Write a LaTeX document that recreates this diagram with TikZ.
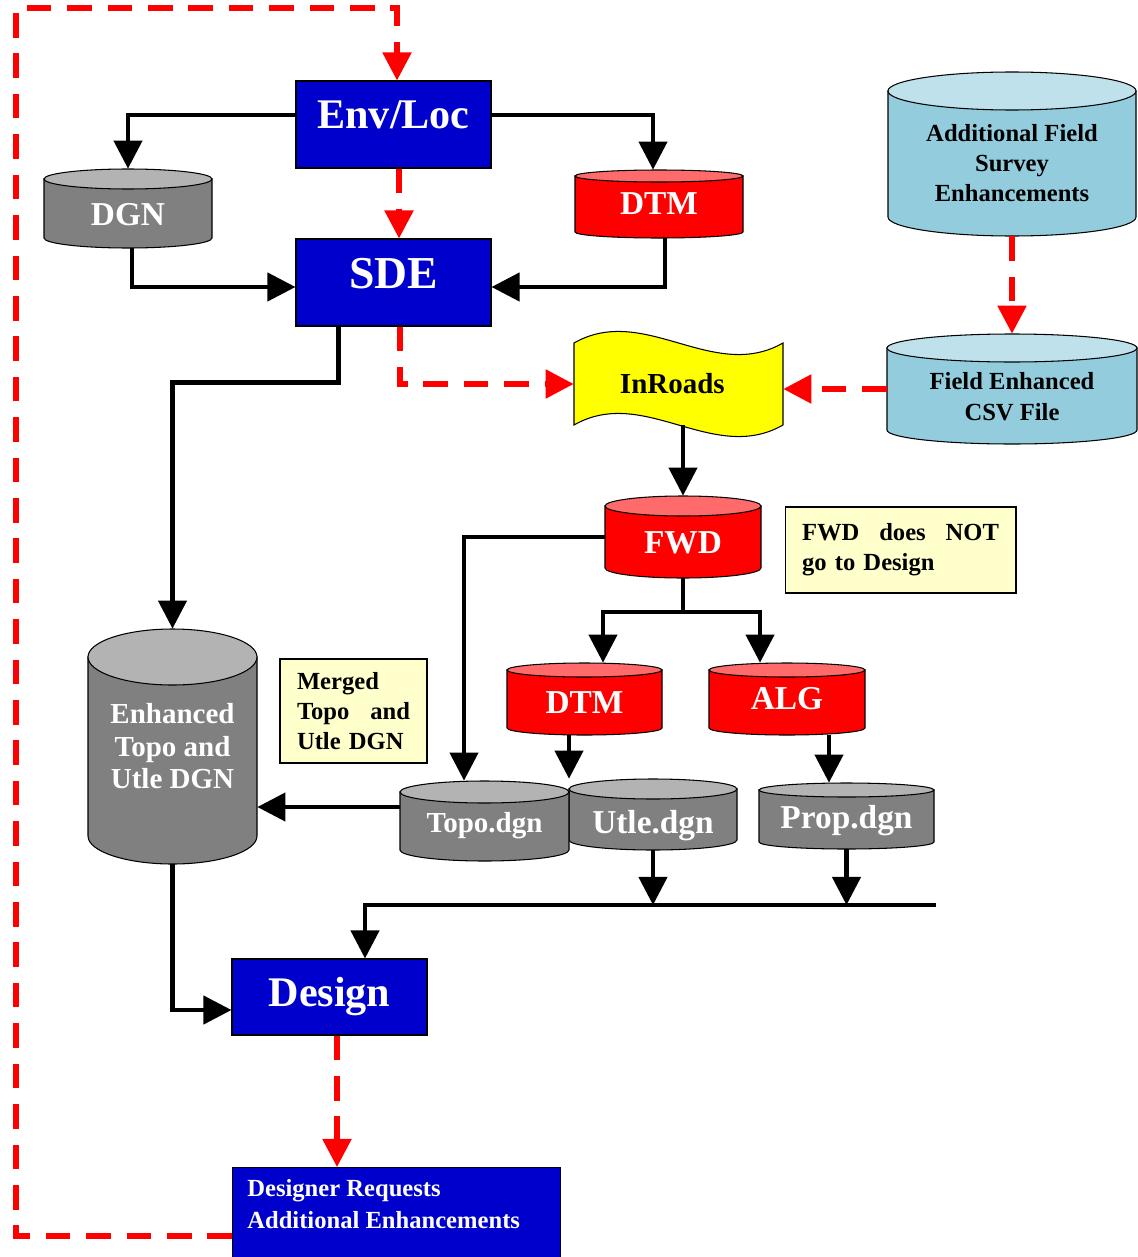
\documentclass[tikz,border=0pt]{standalone}
\usepackage{fontspec}
\setmainfont{Liberation Serif}
\usetikzlibrary{arrows.meta}

\definecolor{boxblue}{HTML}{0000CC}
\definecolor{notefill}{HTML}{FFFFCC}
\definecolor{tapefill}{HTML}{FFFF00}
\definecolor{gbody}{HTML}{808080}
\definecolor{gtop}{HTML}{B3B3B3}
\definecolor{rbody}{HTML}{FF0000}
\definecolor{rtop}{HTML}{FF6B6B}
\definecolor{cbody}{HTML}{93CDDD}
\definecolor{ctop}{HTML}{BEE1EB}

% name, centre x, top y, bottom y, width, ellipse depth, colour set, label style, text
\newcommand{\drum}[9]{%
  \draw[drumedge, fill=#7body] ({#2-#5/2},{#3+#6}) -- ({#2-#5/2},{#4-#6})
    arc[start angle=180, end angle=0, x radius={#5/2}, y radius=#6]
    -- ({#2+#5/2},{#3+#6}) -- cycle;
  \draw[drumedge, fill=#7top] (#2,{#3+#6}) ellipse[x radius={#5/2}, y radius=#6];
  \node[inner sep=0pt, minimum width={#5*0.02cm}, minimum height={(#4-#3)*0.02cm},
    label={[#8]center:{#9}}] (#1) at (#2,{(#3+#4)/2}) {};
}

\begin{document}
\begin{tikzpicture}[x=0.02cm, y=-0.02cm,
  flow/.style={line width=2.4pt, -{Triangle[length=16pt,width=16pt]}},
  loop/.style={red, line width=3pt, dash pattern=on 14pt off 9pt, -{Triangle[length=16pt,width=16pt]}},
  bluebox/.style={draw=black, fill=boxblue, text=white, line width=0.6pt, inner sep=0pt, minimum width=3.9cm},
  note/.style={draw=black, fill=notefill, line width=0.6pt, align=left, font=\fontsize{14}{17}\selectfont\bfseries},
  drumedge/.style={draw=black, line width=0.6pt},
  whitebig/.style={text=white, font=\fontsize{19}{22}\selectfont\bfseries},
  whitemid/.style={text=white, font=\fontsize{16.5}{18.5}\selectfont\bfseries},
  blacksmall/.style={text=black, align=center, font=\fontsize{14}{17.3}\selectfont\bfseries}]

\useasboundingbox (0,0) rectangle (1138,1257);
\clip (0,0) rectangle (1138,1257);

% boxes
\node[bluebox, minimum height=1.74cm, font=\fontsize{24}{28}\selectfont\bfseries,
  text height=16pt, text depth=11.4pt] (envloc) at (393.5,124.5) {Env/Loc};
\node[bluebox, minimum height=1.74cm, font=\fontsize{26}{30}\selectfont\bfseries,
  text height=17.2pt, text depth=10.8pt] (sde) at (393.5,282.5) {SDE};
\node[bluebox, minimum height=1.52cm, font=\fontsize{24}{28}\selectfont\bfseries] (design) at (329.5,997) {Design};
\node[bluebox, anchor=north west, minimum width=6.56cm, minimum height=2cm] (req) at (232,1167) {};
\node[anchor=north west, text=white, align=left, inner xsep=0.3cm, inner ysep=0.24cm,
  font=\fontsize{14}{18}\selectfont\bfseries] (reqtext) at (req.north west) {Designer Requests\\Additional Enhancements};

% drums
\drum{dgn}{128}{169}{248}{168}{10}{g}{whitebig, yshift=-0.13cm}{DGN}
\drum{dtmA}{659}{170}{238}{168}{6}{r}{whitebig}{DTM}
\drum{addf}{1012}{72}{236}{248}{19}{c}{blacksmall, yshift=-0.18cm}{Additional Field\\Survey\\Enhancements}
\drum{csv}{1012}{334}{444}{250}{14}{c}{blacksmall, yshift=-0.15cm}{Field Enhanced\\CSV File}
\drum{fwd}{683}{496}{578}{156}{10}{r}{whitebig, yshift=-0.12cm}{FWD}
\drum{dtmB}{584.5}{663}{735}{155}{7}{r}{whitebig, yshift=-0.08cm}{DTM}
\drum{alg}{787}{663}{735}{156}{7}{r}{whitebig}{ALG}
\drum{utle}{653}{779}{850}{168}{10}{g}{whitebig, yshift=-0.22cm}{Utle.dgn}
\drum{topo}{484.5}{781}{861}{169}{11}{g}{whitemid, yshift=-0.1cm}{Topo.dgn}
\drum{prop}{846.5}{783}{849}{175}{7}{g}{whitebig, yshift=-0.1cm}{Prop.dgn}
\drum{enh}{172.5}{629}{864}{169}{28}{g}{whitemid, align=center}{Enhanced\\Topo and\\Utle DGN}

% tape
\draw[drumedge, fill=tapefill] (574,343) .. controls (644,303) and (713,383) .. (783,343)
  -- (783,425) .. controls (713,465) and (644,385) .. (574,425) -- cycle;
\node[inner sep=0pt, minimum width=4.18cm, minimum height=1.64cm,
  font=\fontsize{16.5}{20}\selectfont\bfseries] (inroads) at (678.5,384) {InRoads\hspace*{7pt}};

% notes
\node[note, text width=3.94cm, inner xsep=0.34cm, minimum height=1.72cm] (fwdnote) at (900.5,550) {FWD\hfill does\hfill NOT\\go to Design};
\node[note, text width=2.26cm, inner xsep=0.34cm, minimum height=2.08cm] (mergenote) at (353.5,711) {Merged\\Topo\hfill and\\Utle DGN};

% connectors
\draw[flow] ([yshift=0.19cm]envloc.west) -| (dgn.north);
\draw[flow] ([yshift=0.19cm]envloc.east) -| ([xshift=-0.12cm]dtmA.north);
\draw[loop] ([xshift=0.11cm]envloc.south) -- ([xshift=0.11cm]sde.north);
\draw[flow] ([xshift=0.08cm]dgn.south) |- ([yshift=-0.09cm]sde.west);
\draw[flow] ([xshift=0.12cm]dtmA.south) |- ([yshift=-0.09cm]sde.east);
\draw[flow] ([xshift=-1.1cm]sde.south) -- ++(0,56) -| (enh.north);
\draw[loop] ([xshift=0.13cm]sde.south) |- (inroads.west);
\draw[loop] (addf.south) -- (csv.north);
\draw[loop] (csv.west) -- (csv.west -| inroads.east);
\draw[flow] (inroads.south -| fwd.north) -- (fwd.north);
\draw[flow] (fwd.west) -| ([xshift=-0.41cm]topo.north);
\coordinate (fwdsplit) at ([yshift=-0.68cm]fwd.south);
\draw[line width=2.4pt] (fwd.south) -- (fwdsplit);
\draw[flow] (fwdsplit) -| ([xshift=0.37cm]dtmB.north);
\draw[flow] (fwdsplit) -| ([xshift=-0.54cm]alg.north);
\coordinate (dtmout) at ([xshift=-0.31cm]dtmB.south);
\draw[flow] (dtmout) -- (dtmout |- utle.north);
\coordinate (algout) at ([xshift=0.84cm]alg.south);
\draw[flow] (algout) -- (algout |- prop.north);
\coordinate (topoin) at ([yshift=0.28cm]topo.west);
\draw[flow] (topoin) -- (topoin -| enh.east);
\coordinate (busL) at (365,905);
\coordinate (busR) at (936,905);
\draw[flow] (utle.south) -- (utle.south |- busL);
\draw[flow] (prop.south) -- (prop.south |- busL);
\draw[flow] (busR) -- (busL) -- (busL |- design.north);
\draw[flow] (enh.south) |- ([yshift=-0.26cm]design.west);
\coordinate (dsnout) at ([xshift=0.15cm]design.south);
\draw[loop] (dsnout) -- (dsnout |- req.north);
\coordinate (loopcorner) at (16,8);
\draw[loop] ([yshift=-1.38cm]req.north west) -| (loopcorner) -| ([xshift=0.07cm]envloc.north);
\end{tikzpicture}
\end{document}
